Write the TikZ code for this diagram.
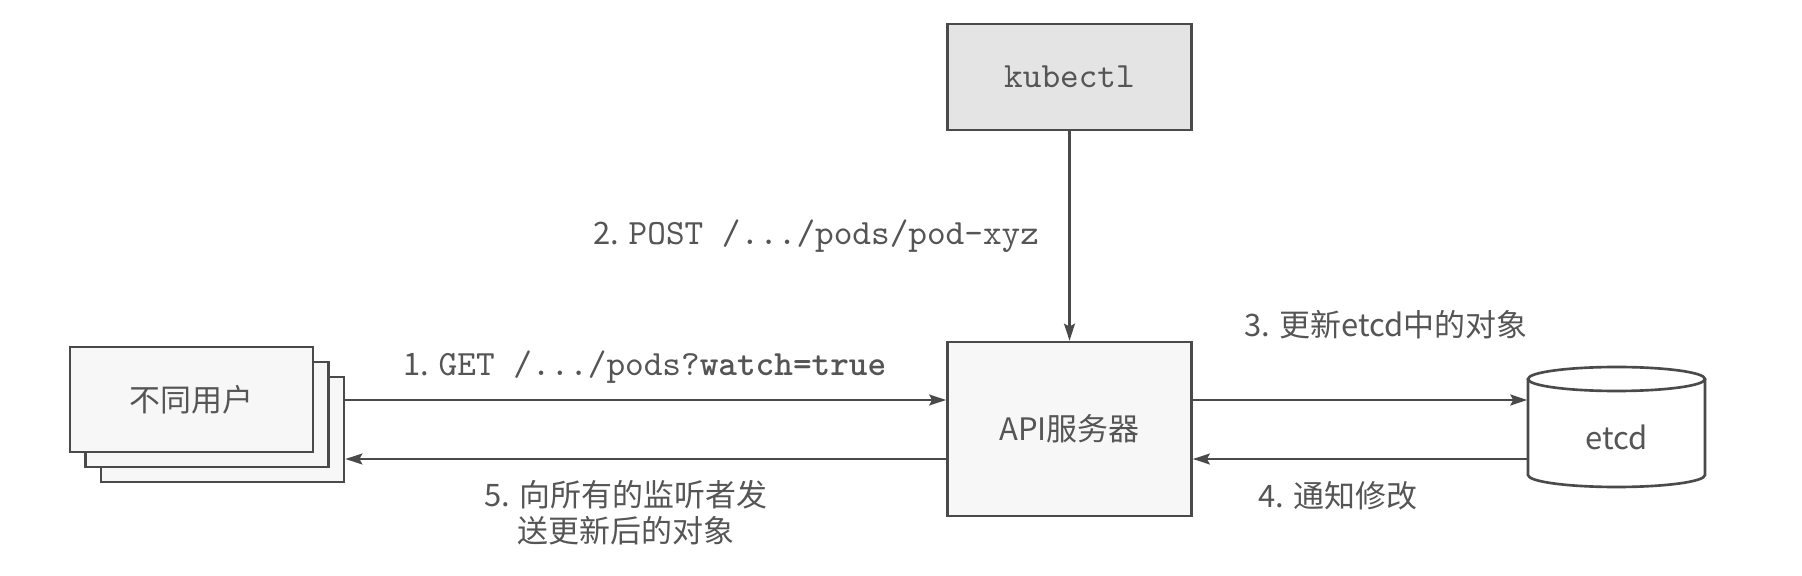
\documentclass[tikz,border=0pt]{standalone}
\usepackage{fontspec}
\setmainfont{Noto Sans CJK SC}
\usepackage{tikz}
\usetikzlibrary{arrows.meta}
\pgfdeclarelayer{bg}
\pgfsetlayers{bg,main}
\definecolor{inkgray}{HTML}{4A4A4A}
\definecolor{textgray}{HTML}{555555}
\definecolor{kubefill}{HTML}{E4E4E4}
\definecolor{boxfill}{HTML}{F7F7F7}
\newcommand{\kubecode}[1]{{\fontsize{10.1}{10.2}\selectfont\ttfamily #1}}

\begin{document}
\begin{tikzpicture}[x=0.01cm, y=-0.01cm,
        font=\fontsize{8.8}{10.2}\selectfont,
        box/.style={draw=inkgray, line width=0.75pt, fill=boxfill, text=textgray, inner sep=0pt},
        lbl/.style={inner sep=0pt, text=textgray},
        arr/.style={draw=inkgray, line width=0.6pt, -{Stealth[length=1.7mm, width=1.1mm, inset=0.3mm]}}]
        \useasboundingbox (0,0) rectangle (1802,576);
        \coordinate (rowtop) at (0,400);
        \coordinate (rowbot) at (0,459);
        \node (users3) [box, minimum width=24.3mm, minimum height=10.5mm] at (222.5,429.5) {};
        \node (users2) [box, minimum width=24.3mm, minimum height=10.5mm] at (207,414.5) {};
        \node (users) [box, minimum width=24.3mm, minimum height=10.5mm] at (191.5,399.5) {不同用户};
        \node (kubectl) [box, fill=kubefill, minimum width=24.4mm, minimum height=10.6mm] at (1069.5,77) {\kubecode{kubectl}};
        \node (api) [box, minimum width=24.4mm, minimum height=17.4mm] at (1069.5,429) {API服务器};
        \draw [draw=inkgray, line width=0.75pt, fill=white] (1528,379) -- (1528,475)
                arc [start angle=180, end angle=0, x radius=88.5, y radius=12] -- (1705,379);
        \draw [draw=inkgray, line width=0.75pt, fill=white] (1616.5,379) ellipse [x radius=88.5, y radius=12];
        \node (etcd) [lbl, minimum width=17.7mm, minimum height=9.6mm] at (1616.5,437) {etcd};
        \node (getlbl) [lbl, anchor=base west] at (403,376) {1. \kubecode{GET /.../pods?\textbf{watch=true}}};
        \node (postlbl) [lbl, anchor=base west] at (593,245) {2. \kubecode{POST /.../pods/pod-xyz}};
        \node (updlbl) [lbl, anchor=base west] at (1244,337) {3. 更新etcd中的对象};
        \node (notelbl) [lbl, anchor=base west] at (1258,508) {4. 通知修改};
        \node (sendlbl) [lbl, align=center] at (626,513) {5. 向所有的监听者发\\送更新后的对象};
        \begin{pgfonlayer}{bg}
                \draw (users3.east |- rowtop) edge [arr] (api.west |- rowtop);
                \draw (api.west |- rowbot) edge [arr] (users3.east |- rowbot);
                \draw (kubectl.south) edge [arr] (api.north);
                \draw (api.east |- rowtop) edge [arr] (etcd.west |- rowtop);
                \draw (etcd.west |- rowbot) edge [arr] (api.east |- rowbot);
        \end{pgfonlayer}
\end{tikzpicture}
\end{document}
